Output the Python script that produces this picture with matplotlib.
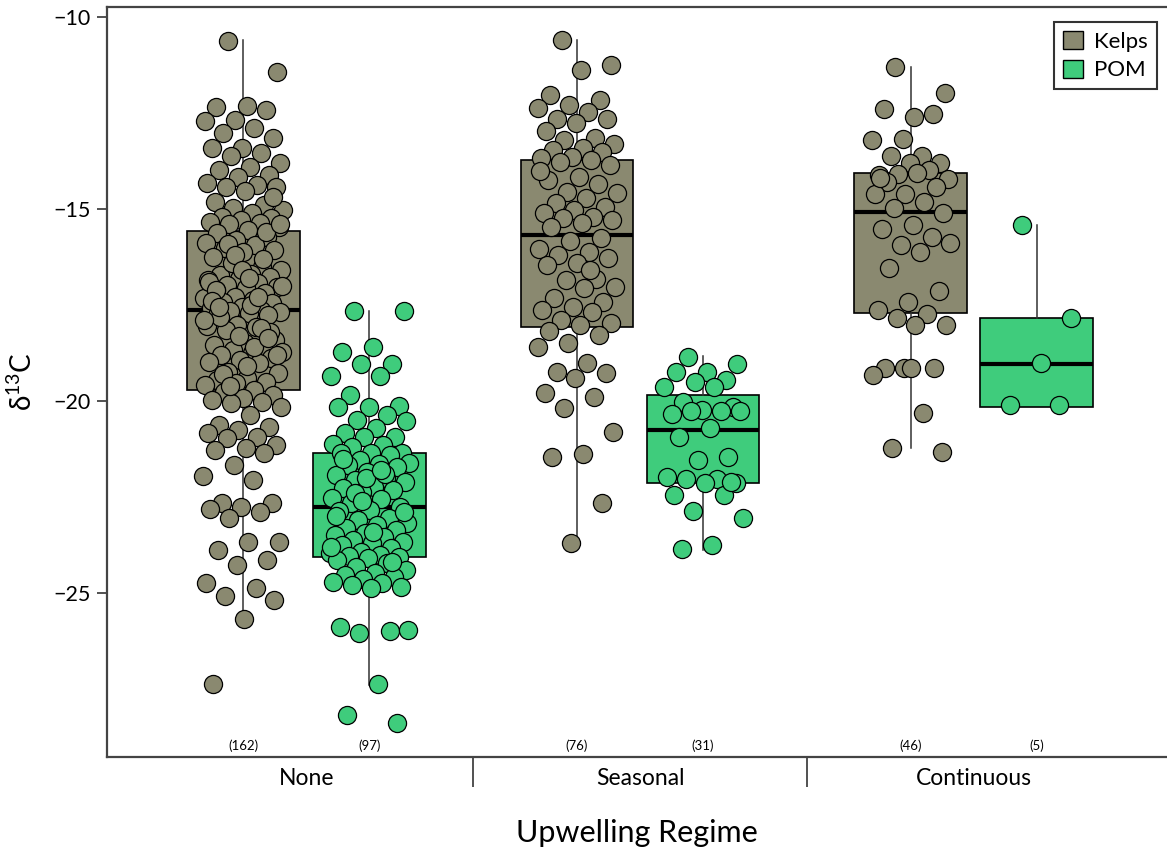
import numpy as np
import matplotlib
matplotlib.use("Agg")
import matplotlib.pyplot as plt
from matplotlib.patches import Patch

plt.rcParams['font.family'] = ['Lato', 'DejaVu Sans']
plt.rcParams['mathtext.default'] = 'regular'

# ---------------- data ----------------
regimes = ["None", "Seasonal", "Continuous"]
sources = ["Kelps", "POM"]
counts = {("None", "Kelps"): 162, ("None", "POM"): 97,
          ("Seasonal", "Kelps"): 76, ("Seasonal", "POM"): 31,
          ("Continuous", "Kelps"): 46, ("Continuous", "POM"): 5}

# box statistics: q1, median, q3, lower whisker, upper whisker
box_q1 = [-19.71, -24.06, -18.07, -22.13, -17.72, -20.15]
box_med = [-17.63, -22.76, -15.68, -20.76, -15.09, -19.04]
box_q3 = [-15.57, -21.35, -13.72, -19.84, -14.05, -17.84]
box_lo = [-25.83, -27.40, -23.60, -23.88, -21.22, -20.15]
box_hi = [-10.60, -17.66, -10.60, -18.83, -11.31, -15.42]

none_kelps = [
    -10.62, -11.42, -12.32, -12.35, -12.42, -12.68, -12.72, -12.90, -13.03, -13.16,
    -13.42, -13.42, -13.55, -13.62, -13.81, -13.90, -13.98, -14.11, -14.16, -14.33,
    -14.38, -14.42, -14.42, -14.53, -14.81, -14.90, -14.98, -15.03, -15.11, -15.20,
    -15.24, -15.29, -15.33, -15.37, -15.39, -15.46, -15.55, -15.63, -15.72, -15.81,
    -15.89, -15.94, -16.02, -16.07, -16.11, -16.24, -16.50, -16.55, -16.59, -16.68,
    -16.72, -16.76, -16.81, -16.85, -16.94, -16.98, -17.02, -17.07, -17.11, -17.20,
    -17.28, -17.33, -17.37, -17.41, -17.46, -17.54, -17.59, -17.63, -17.65, -17.67,
    -17.70, -17.72, -17.76, -18.02, -18.05, -18.07, -18.15, -18.41, -18.50, -18.54,
    -18.59, -18.67, -18.72, -18.76, -18.80, -18.89, -18.93, -18.98, -19.02, -19.24,
    -19.28, -19.41, -19.45, -19.50, -19.54, -19.58, -19.71, -19.76, -19.84, -19.93,
    -19.97, -20.02, -20.06, -20.15, -20.36, -20.63, -20.67, -20.76, -20.84, -20.93,
    -20.97, -21.15, -21.23, -21.28, -21.36, -21.67, -21.95, -22.06, -22.66, -22.66,
    -22.75, -22.80, -22.88, -23.05, -23.66, -23.66, -23.88, -24.14, -24.27, -24.75,
    -24.88, -25.08, -25.18, -25.68, -27.37, -16.30, -16.40, -17.00, -17.50, -17.80,
    -18.20, -18.30, -16.90, -17.30, -15.90, -18.80, -19.10, -17.10, -15.60, -16.20,
    -17.90, -18.60, -19.30, -14.70, -16.60, -17.40, -18.10, -19.60, -15.40, -16.80,
    -17.55, -18.35,
]

none_pom = [
    -17.65, -17.65, -18.59, -18.72, -19.04, -19.04, -19.35, -19.35, -19.84, -20.13,
    -20.15, -20.15, -20.36, -20.50, -20.53, -20.71, -20.84, -20.93, -20.93, -21.12,
    -21.15, -21.19, -21.35, -21.36, -21.36, -21.41, -21.54, -21.62, -21.64, -21.67,
    -21.71, -21.84, -21.93, -22.01, -22.06, -22.12, -22.23, -22.27, -22.32, -22.36,
    -22.53, -22.56, -22.66, -22.75, -22.84, -22.86, -23.05, -23.10, -23.18, -23.23,
    -23.31, -23.36, -23.45, -23.49, -23.55, -23.62, -23.66, -23.70, -23.75, -23.84,
    -23.93, -23.97, -24.01, -24.04, -24.05, -24.09, -24.14, -24.22, -24.31, -24.40,
    -24.47, -24.53, -24.57, -24.64, -24.70, -24.75, -24.79, -24.84, -24.86, -25.88,
    -25.98, -26.05, -25.96, -27.37, -28.18, -28.38, -22.00, -23.00, -21.90, -22.40,
    -22.90, -23.40, -21.50, -24.20, -22.60, -23.80, -21.80,
]

seasonal_kelps = [
    -10.60, -11.25, -11.38, -12.03, -12.16, -12.29, -12.38, -12.47, -12.66, -12.66,
    -12.77, -12.97, -13.16, -13.20, -13.32, -13.42, -13.46, -13.51, -13.64, -13.68,
    -13.72, -13.77, -13.85, -14.16, -14.24, -14.36, -14.55, -14.59, -14.72, -14.85,
    -14.94, -15.03, -15.11, -15.20, -15.24, -15.29, -15.37, -15.46, -15.76, -15.83,
    -16.04, -16.11, -16.20, -16.28, -16.41, -16.46, -16.81, -16.85, -17.02, -17.07,
    -17.33, -17.41, -17.54, -17.63, -17.67, -17.89, -17.98, -18.02, -18.18, -18.28,
    -18.50, -18.59, -19.02, -19.24, -19.28, -19.41, -19.80, -19.89, -20.19, -20.80,
    -21.37, -21.45, -22.66, -23.70, -14.00, -16.60,
]

seasonal_pom = [
    -18.85, -19.04, -19.24, -19.24, -19.44, -19.50, -19.63, -19.63, -20.02, -20.15,
    -20.23, -20.34, -20.25, -20.25, -20.25, -20.71, -20.95, -21.45, -21.54, -21.97,
    -22.04, -22.04, -22.14, -22.14, -22.45, -22.45, -22.86, -23.05, -23.75, -23.86,
    -22.10,
]

continuous_kelps = [
    -11.31, -11.99, -12.60, -12.40, -12.53, -13.19, -13.20, -13.62, -13.62, -13.79,
    -13.81, -14.11, -13.98, -14.09, -14.23, -14.07, -14.29, -14.42, -14.61, -14.61,
    -14.83, -14.98, -15.11, -15.42, -15.53, -15.72, -15.94, -15.89, -16.13, -16.53,
    -17.13, -17.43, -17.63, -17.73, -17.85, -18.02, -18.02, -19.15, -19.15, -19.15,
    -19.32, -20.32, -21.23, -21.32, -19.15, -14.20,
]

continuous_pom = [-15.42, -17.84, -19.00, -20.10, -20.10]

values = {("None", "Kelps"): none_kelps, ("None", "POM"): none_pom,
          ("Seasonal", "Kelps"): seasonal_kelps, ("Seasonal", "POM"): seasonal_pom,
          ("Continuous", "Kelps"): continuous_kelps, ("Continuous", "POM"): continuous_pom}

colors = {"Kelps": "#8a8970", "POM": "#3fcc7c"}

# ---------------- figure ----------------
fig = plt.figure(figsize=(11.67, 8.51), dpi=100)
ax = fig.add_axes([107 / 1167, 1 - 757 / 851, 1 - 107 / 1167, (757 - 7) / 851])

offset = 0.189
width = 0.338
jit = 0.12

k = 0
for gi, reg in enumerate(regimes):
    for si, src in enumerate(sources):
        pos = gi + 1 + (-offset if si == 0 else offset)
        stats = [dict(q1=box_q1[k], med=box_med[k], q3=box_q3[k],
                      whislo=box_lo[k], whishi=box_hi[k], fliers=[])]
        ax.bxp(stats, positions=[pos], widths=width, patch_artist=True,
               showcaps=False, showfliers=False,
               boxprops=dict(facecolor=colors[src], edgecolor="black", linewidth=1.2),
               medianprops=dict(color="black", linewidth=3),
               whiskerprops=dict(color="#333333", linewidth=1.1),
               zorder=2)
        vals = np.asarray(values[(reg, src)])
        n = len(vals)
        frac = (np.arange(n) * 0.6180339887 + 0.31) % 1.0
        xs = pos + (frac - 0.5) * 2 * jit
        ax.scatter(xs, vals, s=170, facecolor=colors[src], edgecolor="black",
                   linewidth=0.9, zorder=3)
        ax.text(pos, -28.97, "(%d)" % counts[(reg, src)], ha="center", va="center",
                fontsize=9.5, color="black", zorder=4)
        k += 1

ax.set_xlim(1 - 0.597, 3 + 0.579)
ax.set_ylim(-29.27, -9.74)
ax.set_yticks([-10, -15, -20, -25])
ax.set_yticklabels(["\u221210", "\u221215", "\u221220", "\u221225"])
ax.set_xticks([1, 2, 3])
ax.set_xticklabels(regimes)
ax.set_xticks([1.5, 2.5], minor=True)
ax.tick_params(axis="x", which="major", length=0, pad=8, labelsize=16.5)
ax.tick_params(axis="x", which="minor", length=21.5, width=1.2, color="#333333")
ax.tick_params(axis="y", length=7.5, width=1.2, color="#333333", labelsize=15.5, pad=4)

for side in ["left", "bottom", "top"]:
    ax.spines[side].set_linewidth(1.6)
    ax.spines[side].set_color("#444444")
ax.spines["right"].set_visible(False)

ax.set_xlabel("Upwelling Regime", fontsize=22, labelpad=20)
ax.set_ylabel("\u03b4$^{13}$C", fontsize=20, labelpad=12)

handles = [Patch(facecolor=colors[s], edgecolor="black", linewidth=1) for s in sources]
leg = ax.legend(handles, sources, loc="upper right", bbox_to_anchor=(1 - 10 / 1060, 1 - 15 / 750),
                fontsize=16, frameon=True, fancybox=False, handlelength=0.9, handleheight=0.9,
                handletextpad=0.5, borderpad=0.4, labelspacing=0.35, borderaxespad=0)
leg.get_frame().set_edgecolor("black")
leg.get_frame().set_linewidth(1.5)

fig.savefig("out.png", dpi=100)
